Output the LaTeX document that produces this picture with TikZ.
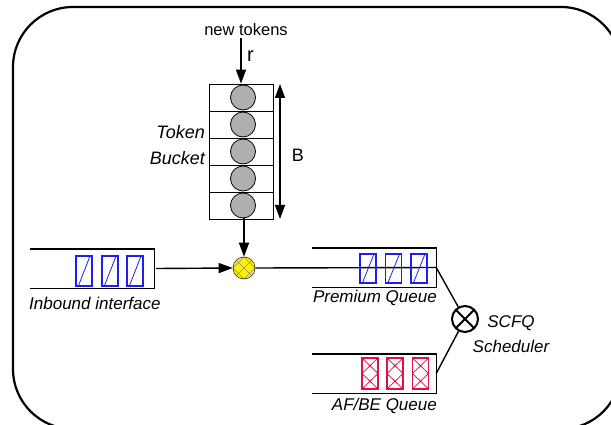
\documentclass[tikz,border=0pt]{standalone}
\usepackage{fontspec}
\setmainfont{Liberation Sans}
\usetikzlibrary{arrows.meta}
\definecolor{pblue}{RGB}{30,30,240}
\definecolor{pred}{RGB}{220,20,70}
\begin{document}
\begin{tikzpicture}[x=1pt,y=-1pt,
  lbl/.style={inner sep=0pt,font=\fontsize{17}{19}\selectfont\itshape},
  txt/.style={inner sep=0pt,font=\fontsize{16.5}{19}\selectfont},
  conn/.style={line width=1.4pt},
  tip/.style={-{Triangle[length=14pt,width=10pt]}},
  cell/.style={draw,line width=0.8pt,minimum width=64pt,minimum height=27pt,inner sep=0pt},
  token/.style={circle,draw,line width=0.8pt,fill=gray!95!black!60,minimum size=25pt,inner sep=0pt},
  qbox/.style={minimum width=124pt,minimum height=39pt,inner sep=0pt},
  bpkt/.style={draw=pblue,line width=1.5pt,minimum width=16pt,minimum height=30pt,inner sep=0pt,
    path picture={\draw[pblue,line width=0.8pt]
      ([yshift=-6pt]path picture bounding box.south west) -- ([yshift=5pt]path picture bounding box.north east)
      ([xshift=-5pt]path picture bounding box.south east) -- ([yshift=-5pt]path picture bounding box.south east);}},
  rpkt/.style={draw=pred,line width=1.5pt,minimum width=16pt,minimum height=31pt,inner sep=0pt,
    path picture={\draw[pred,line width=0.8pt]
      (path picture bounding box.north west) -- (path picture bounding box.east) -- (path picture bounding box.south west)
      (path picture bounding box.north east) -- (path picture bounding box.west) -- (path picture bounding box.south east);}}
]
\useasboundingbox (0,0) rectangle (611,425);
\clip (0,0) rectangle (611,425);
\fill[white] (0,0) rectangle (611,425);
% frame
\draw[line width=2.2pt,rounded corners=60pt] (13,7) rectangle (621,429);

% token bucket
\node[txt] (nt) at (246,30) {new tokens};
\coordinate (ntb) at (241,38);
\node[txt,anchor=west,font=\fontsize{20}{22}\selectfont] (r) at (247,56) {r};
\foreach \i/\y in {1/97.5,2/124.5,3/151.5,4/178.5,5/205.5}{
  \node[cell] (c\i) at (241,\y) {};
  \node[token] (t\i) at (243,\y) {};
}
\draw[conn,tip] (ntb) -- (ntb |- c1.north);
\coordinate (btop) at (280,84);
\coordinate (bbot) at (280,219);
\draw[conn,{Triangle[length=14pt,width=10pt]}-{Triangle[length=14pt,width=10pt]}] (btop) -- (bbot);
\node[txt,font=\fontsize{18}{20}\selectfont] (B) at (298,155) {B};
\node[lbl,anchor=east,font=\fontsize{18}{20}\selectfont\itshape] (tk) at (205,132) {Token};
\node[lbl,anchor=east,font=\fontsize{18}{20}\selectfont\itshape] (bk) at (205,158) {Bucket};

% mixer
\node[circle,draw=black!80,line width=0.6pt,fill=yellow,minimum size=22pt,inner sep=0pt,
  path picture={\draw[black!45,line width=0.7pt]
   ([xshift=-11pt]path picture bounding box.north) -- ([xshift=11pt]path picture bounding box.south)
   (path picture bounding box.north) -- (path picture bounding box.east)
   (path picture bounding box.west) -- (path picture bounding box.south)
   ([xshift=11pt]path picture bounding box.north) -- ([xshift=-11pt]path picture bounding box.south)
   (path picture bounding box.north) -- (path picture bounding box.west)
   (path picture bounding box.east) -- (path picture bounding box.south);}] (mix) at (244,268) {};
\draw[conn,tip] (mix |- t5.south) -- (mix.north);

% inbound queue
\node[qbox] (inq) at (92,268.5) {};
\draw[conn] (inq.north west) -- (inq.north east) -- (inq.south east) -- (inq.south west);
\node[bpkt] (ib1) at (84,271) {};
\node[bpkt] (ib2) at (110,271) {};
\node[bpkt] (ib3) at (135,271) {};
\node[lbl,anchor=west] (inl) at (29,303) {Inbound interface};
\draw[conn,tip] ([xshift=2pt]inq.east) -- (mix.west);

% premium queue
\node[qbox] (pq) at (374,267.5) {};
\draw[conn] (mix.east) -- (pq.east);
\draw[conn] (pq.north west) -- (pq.north east) -- (pq.south east) -- (pq.south west);
\node[bpkt,minimum height=29pt] (pb1) at (368,268.5) {};
\node[bpkt,minimum height=29pt] (pb2) at (393.5,268.5) {};
\node[bpkt,minimum height=29pt] (pb3) at (419,268.5) {};
\node[lbl,anchor=east] (pql) at (437,298) {Premium Queue};

% AF/BE queue
\node[qbox] (aq) at (374,373.5) {};
\draw[conn] (aq.north west) -- (aq.north east) -- (aq.south east) -- (aq.south west);
\node[rpkt] (ab1) at (370,373.5) {};
\node[rpkt] (ab2) at (395,373.5) {};
\node[rpkt] (ab3) at (420.5,373.5) {};
\node[lbl,anchor=east] (aql) at (437,406) {AF/BE Queue};

% scheduler
\node[circle,draw,line width=2pt,minimum size=26pt,inner sep=0pt,
  path picture={\draw[line width=2pt]
   (path picture bounding box.north west) -- (path picture bounding box.south east)
   (path picture bounding box.north east) -- (path picture bounding box.south west);}] (sch) at (465,319) {};
\draw[conn] (pq.east) -- (sch);
\draw[conn] (aq.east) -- (sch);
\node[lbl] (s1) at (511,323) {SCFQ};
\node[lbl] (s2) at (511,346) {Scheduler};
\end{tikzpicture}
\end{document}
